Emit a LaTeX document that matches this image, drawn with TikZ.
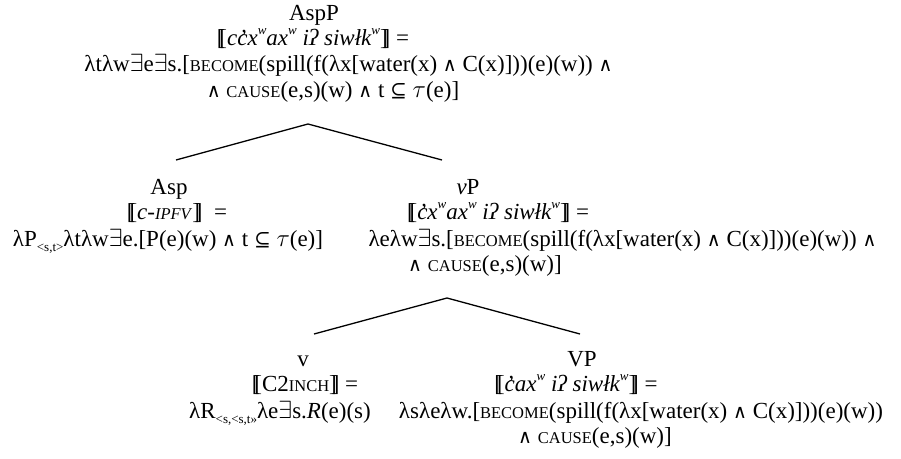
\documentclass[tikz,border=0pt]{standalone}
\usepackage{fontspec}
\setmainfont{Liberation Serif}
\newfontfamily\symfont{DejaVu Serif}
\newcommand\lsem{[\kern-0.22em[}
\newcommand\rsem{]\kern-0.22em]}
\newcommand\fsc[1]{{\fontsize{16.5}{16.5}\selectfont #1}}
\newcommand\cgl{\accent"2019 c}
\newcommand\ssub[1]{\raisebox{-0.22em}{\fontsize{13}{13}\selectfont #1}}
\newcommand\wsup{\raisebox{0.45em}{\fontsize{13}{13}\selectfont w}}
\newcommand\myand{{\symfont\fontsize{19}{19}\selectfont ∧}}
\newcommand\mysub{{\symfont\fontsize{20}{20}\selectfont ⊆}}
\begin{document}
\begin{tikzpicture}[x=1pt,y=-1pt,
  txt/.style={anchor=base,inner sep=0pt,font=\fontsize{23}{26}\selectfont},
  branch/.style={line width=1.3pt,black}]
\useasboundingbox (0,0) rectangle (901,458);
% AspP
\node[txt] (AspP) at (314,20) {AspP};
\node[txt] (a2) at (313,45) {\lsem\textit{c\cgl x\wsup ax\wsup\ iʔ siwłk\wsup}\rsem\ =};
\node[txt] (a3) at (348.5,71) {λtλw$\exists$e$\exists$s.[\fsc{BECOME}(spill(f(λx[water(x) \myand{} C(x)]))(e)(w)) \myand};
\node[txt] (a4) at (333,97) {\myand{} \fsc{CAUSE}(e,s)(w) \myand{} t \mysub{} $\tau$(e)]};
% Asp
\node[txt] (Asp) at (169,194) {Asp};
\node[txt] (b2) at (177,219) {\lsem\textit{c-\fsc{IPFV}}\rsem\ \ =};
\node[txt] (b3) at (168,246) {λP\ssub{<s,t>}λtλw$\exists$e.[P(e)(w) \myand{} t \mysub{} $\tau$(e)]};
% vP
\node[txt] (vP) at (468,194) {\textit{v}P};
\node[txt] (c2) at (498,219) {\lsem\textit{\cgl x\wsup ax\wsup\ iʔ siwłk\wsup}\rsem\ =};
\node[txt] (c3) at (622.5,246) {λeλw$\exists$s.[\fsc{BECOME}(spill(f(λx[water(x) \myand{} C(x)]))(e)(w)) \myand};
\node[txt] (c4) at (485,271) {\myand{} \fsc{CAUSE}(e,s)(w)]};
% v
\node[txt] (v) at (303,366) {v};
\node[txt] (d2) at (305,391) {\lsem C2\fsc{INCH}\rsem\ =};
\node[txt] (d3) at (280,418) {λR\ssub{<s,<s,t>>}λe$\exists$s.\textit{R}(e)(s)};
% VP
\node[txt] (VP) at (582,366) {VP};
\node[txt] (e2) at (576,391) {\lsem\textit{\cgl ax\wsup\ iʔ siwłk\wsup}\rsem\ =};
\node[txt] (e3) at (641,418) {λsλeλw.[\fsc{BECOME}(spill(f(λx[water(x) \myand{} C(x)]))(e)(w))};
\node[txt] (e4) at (595,443) {\myand{} \fsc{CAUSE}(e,s)(w)]};
% branches
\coordinate (t1apex) at (308,124);
\coordinate (t1l) at (176,160);
\coordinate (t1r) at (442,160);
\coordinate (t2apex) at (447,298);
\coordinate (t2l) at (314,334);
\coordinate (t2r) at (580,334);
\draw[branch] (t1l) -- (t1apex) -- (t1r);
\draw[branch] (t2l) -- (t2apex) -- (t2r);
\end{tikzpicture}
\end{document}
